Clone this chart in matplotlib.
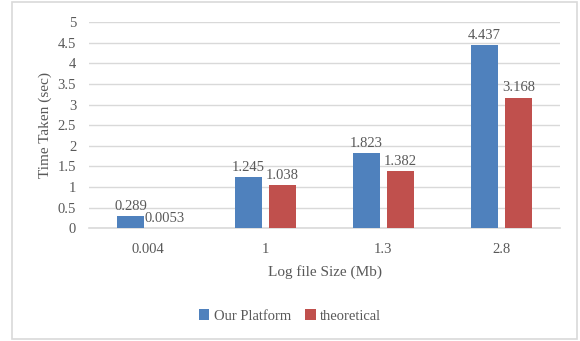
import matplotlib
matplotlib.use("Agg")
import matplotlib.pyplot as plt
import numpy as np
from matplotlib.patches import Rectangle

categories = ["0.004", "1", "1.3", "2.8"]
our_platform = [0.289, 1.245, 1.823, 4.437]
theoretical = [0.0053, 1.038, 1.382, 3.168]
our_labels = ["0.289", "1.245", "1.823", "4.437"]
theo_labels = ["0.0053", "1.038", "1.382", "3.168"]

blue = "#4f81bd"
red = "#c0504d"
txt = "#595959"
grid = "#d9d9d9"

plt.rcParams["font.family"] = ["Liberation Serif", "DejaVu Serif"]

fig = plt.figure(figsize=(5.8, 3.41), dpi=100)
ax = fig.add_axes([0.153, 0.331, 0.813, 0.604])

# outer chart border
fig.patches.append(Rectangle((12 / 580, 2 / 341), 565 / 580, 337 / 341,
                             transform=fig.transFigure, fill=False,
                             edgecolor="#d9d9d9", linewidth=1.2))

x = np.arange(len(categories))
w = 0.23
gap = 0.03
b1 = ax.bar(x - w / 2 - gap, our_platform, w, color=blue, label="Our Platform", zorder=3)
b2 = ax.bar(x + w / 2 + gap, theoretical, w, color=red, label="theoretical", zorder=3)

for rect, lab in zip(b1, our_labels):
    ax.text(rect.get_x() + rect.get_width() / 2, rect.get_height() + 0.08, lab,
            ha="center", va="bottom", fontsize=10.5, color=txt)
for rect, lab in zip(b2, theo_labels):
    ax.text(rect.get_x() + rect.get_width() / 2, rect.get_height() + 0.08, lab,
            ha="center", va="bottom", fontsize=10.5, color=txt)

ax.set_xlim(-0.5, len(categories) - 0.5)
ax.set_ylim(0, 5)
ax.set_yticks(np.arange(0, 5.01, 0.5))
ax.set_yticklabels(["0", "0.5", "1", "1.5", "2", "2.5", "3", "3.5", "4", "4.5", "5"])
ax.set_xticks(x)
ax.set_xticklabels(categories)
ax.tick_params(length=0, labelsize=10.5, colors=txt)
ax.tick_params(axis="x", pad=11)
ax.tick_params(axis="y", pad=9)
ax.grid(axis="y", color=grid, linewidth=1, zorder=0)
for s in ["top", "right", "left"]:
    ax.spines[s].set_visible(False)
ax.spines["bottom"].set_color(grid)
ax.spines["bottom"].set_linewidth(1.2)
ax.set_axisbelow(True)

ax.set_xlabel("Log file Size (Mb)", fontsize=11, color=txt, labelpad=6)
ax.set_ylabel("Time Taken (sec)", fontsize=11, color=txt, labelpad=4)

fig.legend(loc="center", bbox_to_anchor=(0.5, 1 - 316 / 341), ncol=2, frameon=False,
           fontsize=10.5, labelcolor=txt, handlelength=0.7, handleheight=0.7,
           handletextpad=0.3, columnspacing=1.0)

fig.savefig("out.png", dpi=100)
